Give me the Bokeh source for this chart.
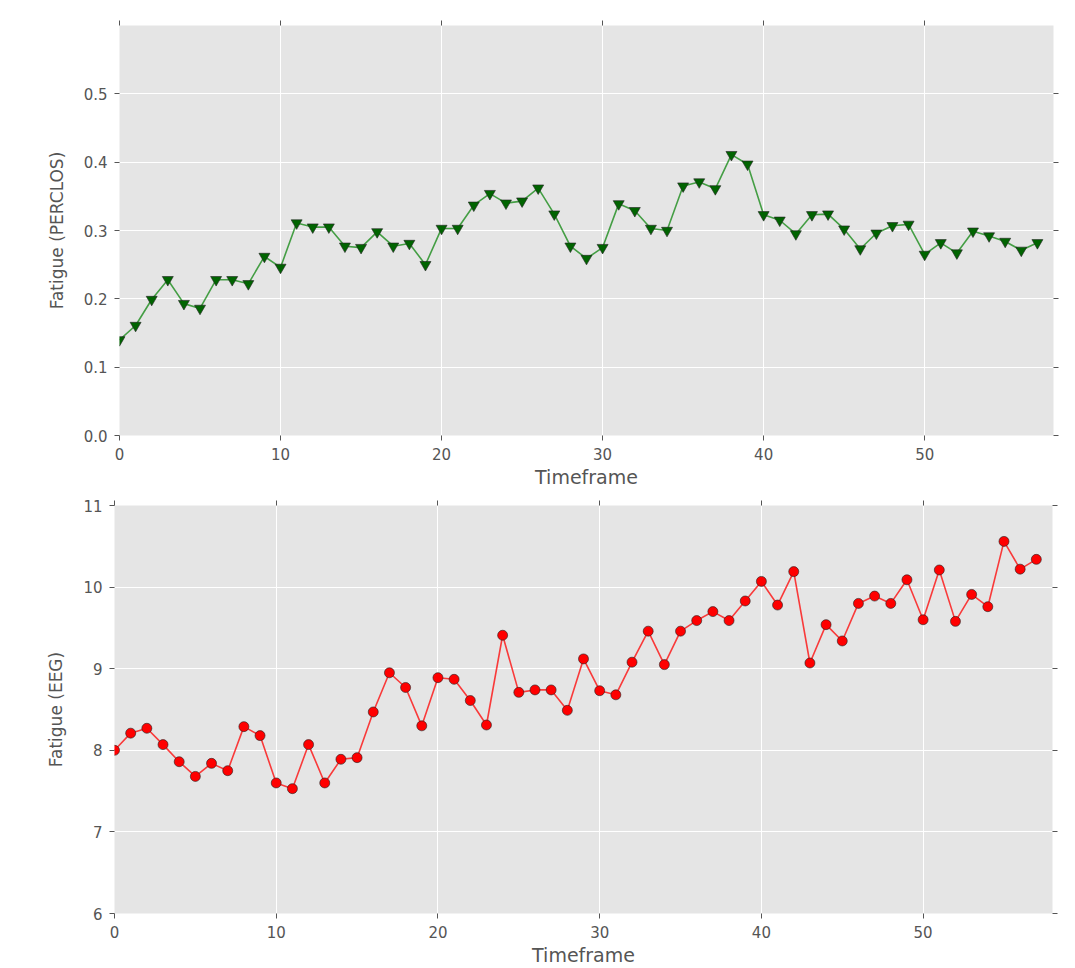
from bokeh.plotting import figure
from bokeh.layouts import column
from bokeh.models import LinearAxis, FixedTicker, Range1d, ColumnDataSource, PrintfTickFormatter
from bokeh.embed import file_html
from bokeh.resources import INLINE

timeframe = list(range(58))
perclos = [0.140, 0.161, 0.199, 0.228, 0.193, 0.186, 0.228, 0.228, 0.222, 0.262,
           0.246, 0.311, 0.305, 0.305, 0.277, 0.275, 0.298, 0.277, 0.281, 0.250,
           0.303, 0.303, 0.337, 0.354, 0.340, 0.343, 0.362, 0.324, 0.277, 0.259,
           0.275, 0.339, 0.329, 0.303, 0.300, 0.365, 0.371, 0.361, 0.411, 0.397,
           0.323, 0.315, 0.295, 0.323, 0.324, 0.302, 0.273, 0.296, 0.307, 0.309,
           0.265, 0.282, 0.267, 0.299, 0.292, 0.284, 0.271, 0.282]
eeg = [8.00, 8.21, 8.27, 8.07, 7.86, 7.68, 7.84, 7.75, 8.29, 8.18,
       7.60, 7.53, 8.07, 7.60, 7.89, 7.91, 8.47, 8.95, 8.77, 8.30,
       8.89, 8.87, 8.61, 8.31, 9.41, 8.71, 8.74, 8.74, 8.49, 9.12,
       8.73, 8.68, 9.08, 9.46, 9.05, 9.46, 9.59, 9.70, 9.59, 9.83,
       10.07, 9.78, 10.19, 9.07, 9.54, 9.34, 9.80, 9.89, 9.80, 10.09,
       9.60, 10.21, 9.58, 9.91, 9.76, 10.56, 10.22, 10.34]

x_ticks = [0, 10, 20, 30, 40, 50]
perclos_ticks = [0.0, 0.1, 0.2, 0.3, 0.4, 0.5]
eeg_ticks = [6, 7, 8, 9, 10, 11]

FONT = "DejaVu Sans"
GREY = "#555555"
FIG_W = 1064


def make_fig(y_range, y_ticks, y_label, border_left, frame_w, border_top, frame_h, border_bottom):
    border_right = FIG_W - border_left - frame_w
    p = figure(width=FIG_W, height=border_top + frame_h + border_bottom,
               x_range=Range1d(0, 58), y_range=y_range,
               output_backend="svg", toolbar_location=None,
               min_border_left=border_left, min_border_right=border_right,
               min_border_top=border_top, min_border_bottom=border_bottom,
               background_fill_color="#E5E5E5", border_fill_color="white")
    if hasattr(p, "frame_align"):
        p.frame_align = False
    p.outline_line_color = None
    p.xaxis.ticker = FixedTicker(ticks=x_ticks)
    p.yaxis.ticker = FixedTicker(ticks=y_ticks)
    p.xgrid.ticker = FixedTicker(ticks=x_ticks)
    p.ygrid.ticker = FixedTicker(ticks=y_ticks)
    p.grid.grid_line_color = "white"
    p.grid.grid_line_width = 1
    p.xaxis.axis_label = "Timeframe"
    p.yaxis.axis_label = y_label
    for ax in p.xaxis + p.yaxis:
        ax.axis_line_color = None
        ax.major_tick_line_color = GREY
        ax.major_tick_out = 5
        ax.major_tick_in = 0
        ax.minor_tick_line_color = None
        ax.major_label_text_font = FONT
        ax.major_label_text_font_size = "15px"
        ax.major_label_text_color = GREY
        ax.major_label_standoff = 7
        ax.axis_label_text_font = FONT
        ax.axis_label_text_font_style = "normal"
        ax.axis_label_text_color = GREY
    p.xaxis.axis_label_text_font_size = "19px"
    p.yaxis.axis_label_text_font_size = "17px"
    p.xaxis.axis_label_standoff = 3
    p.yaxis.axis_label_standoff = 14
    # mirrored tick marks on top and right (no labels)
    for loc, tks in (("above", x_ticks), ("right", y_ticks)):
        ax = LinearAxis(ticker=FixedTicker(ticks=tks),
                        major_label_overrides={t: "" for t in tks})
        ax.axis_line_color = None
        ax.major_tick_line_color = GREY
        ax.major_tick_out = 5
        ax.major_tick_in = 0
        ax.minor_tick_line_color = None
        ax.major_label_text_font_size = "1px"
        ax.major_label_standoff = 0
        p.add_layout(ax, loc)
    return p


src = ColumnDataSource(data=dict(x=timeframe, perclos=perclos, eeg=eeg))

p1 = make_fig(Range1d(0, 0.6), perclos_ticks, "Fatigue (PERCLOS)", 119, 934, 25, 410, 60)
p1.yaxis[0].formatter = PrintfTickFormatter(format="%.1f")
p1.line("x", "perclos", source=src, line_color="#008000", line_alpha=0.7, line_width=1.6)
p1.scatter("x", "perclos", source=src, marker="inverted_triangle", size=11,
           fill_color="#006400", line_color="#222222", line_alpha=0.6, line_width=1)

p2 = make_fig(Range1d(6, 11), eeg_ticks, "Fatigue (EEG)", 114, 938, 10, 413, 50)
p2.line("x", "eeg", source=src, line_color="#FF0000", line_alpha=0.75, line_width=1.6)
p2.scatter("x", "eeg", source=src, marker="circle", size=10,
           fill_color="#FF0000", line_color="#222222", line_alpha=0.6, line_width=1)

layout = column(p1, p2, spacing=0)
open("out.html", "w").write(file_html(layout, INLINE))
